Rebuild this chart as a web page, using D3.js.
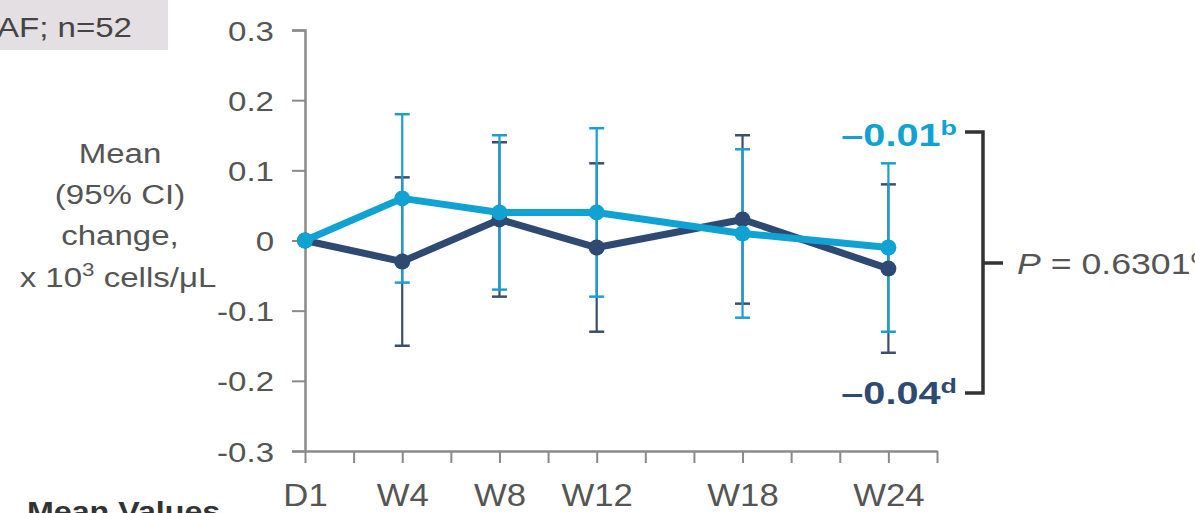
<!DOCTYPE html>
<html>
<head>
<meta charset="utf-8">
<script src="https://cdn.jsdelivr.net/npm/d3@7"></script>
<style>
  body { margin: 0; background: #fff; }
  svg { display: block; font-family: "Liberation Sans", Arial, sans-serif; }
</style>
</head>
<body>
<svg id="ch" width="1195" height="513"></svg>
<script>
// visit week and labels
var weeks = [0, 4, 8, 12, 18, 24];
var weekLabels = ["D1", "W4", "W8", "W12", "W18", "W24"];
var yTicks = [0.3, 0.2, 0.1, 0, -0.1, -0.2, -0.3];

// light blue series
var lightMean = [0, 0.06, 0.04, 0.04, 0.01, -0.01];
var lightLo   = [0, -0.06, -0.07, -0.08, -0.11, -0.13];
var lightHi   = [0, 0.18, 0.15, 0.16, 0.13, 0.11];

// dark navy series
var darkMean = [0, -0.03, 0.03, -0.01, 0.03, -0.04];
var darkLo   = [0, -0.15, -0.08, -0.13, -0.09, -0.16];
var darkHi   = [0, 0.09, 0.14, 0.11, 0.15, 0.08];

var lightCol = "#10a2d3", darkCol = "#2f4a72";
var axisCol = "#8a8a8a", textCol = "#555";
var SX = 1.18; // source text is a bit wide

var svg = d3.select("#ch");

var x = d3.scaleLinear().domain([0, 26]).range([305, 937]);
var y = d3.scaleLinear().domain([-0.3, 0.3]).range([451, 30]);

// put a text at x,y stretched sideways
function wideText(px, py, size, anchor, sx) {
    return svg.append("text")
        .attr("transform", "translate(" + px + "," + py + ") scale(" + (sx || SX) + ",1)")
        .attr("text-anchor", anchor || "start")
        .attr("font-size", size).attr("fill", textCol);
}

// top-left box
svg.append("rect").attr("x", 0).attr("y", 0).attr("width", 168).attr("height", 50)
    .attr("fill", "#e3dfe2");
wideText(-3, 37, 28).attr("fill", "#444").text("AF; n=52");

// y axis
var yAxis = d3.axisLeft(y).tickValues(yTicks).tickSize(13).tickPadding(0)
    .tickFormat(function (d) { return d === 0 ? "0" : d3.format(".1f")(d).replace("\u2212", "-"); });
var gy = svg.append("g").attr("transform", "translate(" + x(0) + ",0)").call(yAxis);
gy.select(".domain").attr("stroke", axisCol).attr("stroke-width", 2.5);
gy.selectAll(".tick line").attr("stroke", axisCol).attr("stroke-width", 2);
gy.selectAll(".tick text").attr("font-size", 28).attr("fill", textCol)
    .attr("font-family", "Liberation Sans, Arial, sans-serif")
    .attr("x", 0).attr("dy", "0.36em")
    .attr("transform", "translate(-31,0) scale(" + SX + ",1)");

// x axis
var xAxis = d3.axisBottom(x).tickValues(d3.range(0, 27, 2)).tickSize(12).tickSizeOuter(0)
    .tickFormat(function (d) { var i = weeks.indexOf(d); return i < 0 ? "" : weekLabels[i]; });
var gx = svg.append("g").attr("transform", "translate(0," + y(-0.3) + ")").call(xAxis);
gx.select(".domain").attr("stroke", axisCol).attr("stroke-width", 2.5);
gx.selectAll(".tick line").attr("stroke", axisCol).attr("stroke-width", 2);
gx.selectAll(".tick text").attr("font-size", 31).attr("fill", textCol)
    .attr("y", 0).attr("dy", 0)
    .attr("transform", "translate(0,55) scale(1.12,1)")
    .attr("font-family", "Liberation Sans, Arial, sans-serif");

// y axis title
var yTitle = ["Mean", "(95% CI)", "change,"];
yTitle.forEach(function (t, i) {
    wideText(120, 163 + i * 41, 28, "middle").text(t);
});
var ut = wideText(118, 287, 28, "middle");
ut.append("tspan").text("x 10");
ut.append("tspan").attr("font-size", 19).attr("dy", -11).text("3");
ut.append("tspan").attr("dy", 11).text(" cells/\u03bcL");

function series(mean, lo, hi) {
    return weeks.map(function (w, i) { return {w: w, m: mean[i], lo: lo[i], hi: hi[i]}; });
}
var dark = series(darkMean, darkLo, darkHi);
var light = series(lightMean, lightLo, lightHi);

function errBars(data, col) {
    var g = svg.append("g");
    var d = data.filter(function (p) { return p.w > 0; });
    g.selectAll("line.v").data(d).enter().append("line")
        .attr("x1", function (p) { return x(p.w); }).attr("x2", function (p) { return x(p.w); })
        .attr("y1", function (p) { return y(p.lo); }).attr("y2", function (p) { return y(p.hi); })
        .attr("stroke", col).attr("stroke-width", 2.2);
    ["lo", "hi"].forEach(function (k) {
        g.selectAll("line." + k).data(d).enter().append("line")
            .attr("x1", function (p) { return x(p.w) - 7.5; }).attr("x2", function (p) { return x(p.w) + 7.5; })
            .attr("y1", function (p) { return y(p[k]); }).attr("y2", function (p) { return y(p[k]); })
            .attr("stroke", col).attr("stroke-width", 2.5);
    });
}
errBars(dark, "#3a4e70");
errBars(light, "#1b9fcf");

var line = d3.line().x(function (p) { return x(p.w); }).y(function (p) { return y(p.m); });
function drawLine(data, col) {
    svg.append("path").attr("d", line(data)).attr("fill", "none")
        .attr("stroke", col).attr("stroke-width", 7).attr("stroke-linejoin", "round");
    svg.append("g").selectAll("circle").data(data).enter().append("circle")
        .attr("cx", function (p) { return x(p.w); }).attr("cy", function (p) { return y(p.m); })
        .attr("r", 8).attr("fill", col);
}
drawLine(dark, darkCol);
drawLine(light, lightCol);

// end labels
function endLabel(yy, val, sup, col) {
    var t = wideText(957, yy, 31, "end", 1.28).attr("font-weight", "bold").attr("fill", col);
    t.append("tspan").text(val);
    t.append("tspan").attr("font-size", 21).attr("dy", -11).text(sup);
}
endLabel(146, "\u20130.01", "b", lightCol);
endLabel(404, "\u20130.04", "d", darkCol);

// bracket
svg.append("path")
    .attr("d", "M965,132 H983 V393 H965 M983,263 H1003")
    .attr("fill", "none").attr("stroke", "#333").attr("stroke-width", 3.5);
var pt = wideText(1017, 274, 29, "start", 1.23);
pt.append("tspan").attr("font-style", "italic").text("P");
pt.append("tspan").text(" = 0.6301");
pt.append("tspan").attr("font-size", 19).attr("dy", -11).text("c");

// cut-off heading below
wideText(27, 521, 28, "start", 1.15).attr("font-weight", "bold").attr("fill", "#333")
    .text("Mean Values");
</script>
</body>
</html>
